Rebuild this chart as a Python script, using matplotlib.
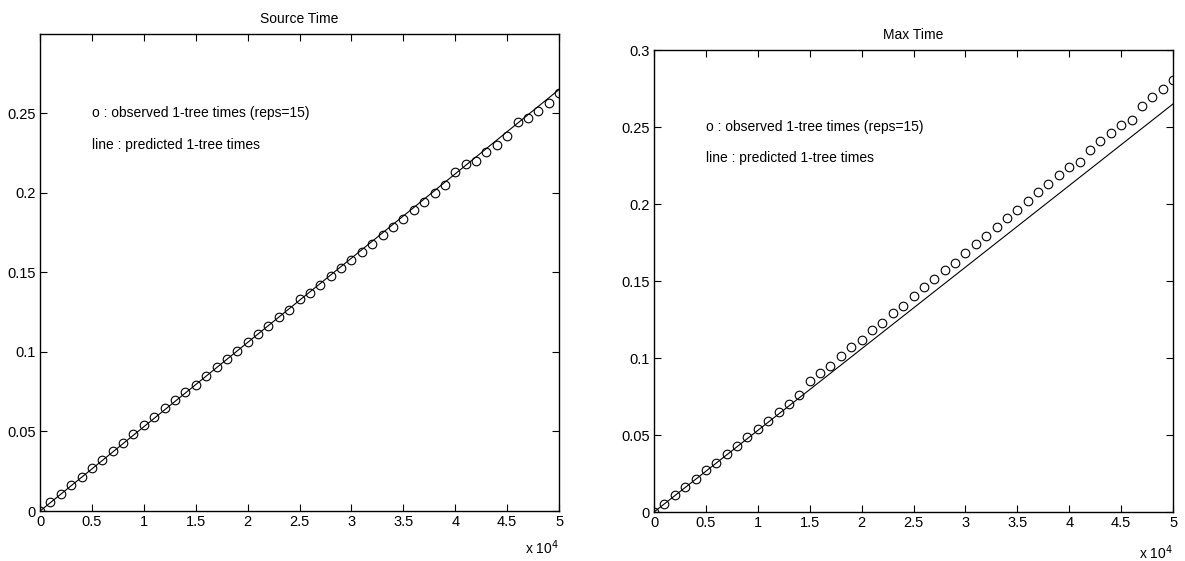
import matplotlib
matplotlib.use("Agg")
import matplotlib.pyplot as plt

plt.rcParams['font.family'] = ['Liberation Sans', 'DejaVu Sans']
plt.rcParams['font.size'] = 10

# problem sizes (x 10^4 on the axis)
sizes = list(range(0, 50001, 1000))

# predicted 1-tree times (same model line in both panels)
predicted = [0.0000, 0.0053, 0.0106, 0.0159, 0.0212, 0.0265, 0.0318, 0.0371, 0.0424, 0.0477,
             0.0530, 0.0583, 0.0636, 0.0689, 0.0742, 0.0795, 0.0848, 0.0901, 0.0954, 0.1007,
             0.1060, 0.1113, 0.1166, 0.1219, 0.1272, 0.1325, 0.1378, 0.1431, 0.1484, 0.1537,
             0.1590, 0.1643, 0.1696, 0.1749, 0.1802, 0.1855, 0.1908, 0.1961, 0.2014, 0.2067,
             0.2120, 0.2173, 0.2226, 0.2279, 0.2332, 0.2385, 0.2438, 0.2491, 0.2544, 0.2597,
             0.2650]

# observed source times
source_obs = [0.0000, 0.0055, 0.0110, 0.0165, 0.0215, 0.0270, 0.0320, 0.0375, 0.0430, 0.0485,
              0.0540, 0.0590, 0.0645, 0.0695, 0.0750, 0.0795, 0.0850, 0.0905, 0.0955, 0.1005,
              0.1060, 0.1110, 0.1165, 0.1220, 0.1265, 0.1330, 0.1370, 0.1420, 0.1475, 0.1525,
              0.1575, 0.1630, 0.1680, 0.1735, 0.1785, 0.1835, 0.1890, 0.1945, 0.1999, 0.2049,
              0.2131, 0.2182, 0.2201, 0.2257, 0.2301, 0.2358, 0.2446, 0.2472, 0.2516, 0.2566,
              0.2628]

# observed max times
max_obs = [0.0000, 0.0055, 0.0110, 0.0160, 0.0215, 0.0270, 0.0320, 0.0375, 0.0430, 0.0490,
           0.0540, 0.0590, 0.0650, 0.0700, 0.0760, 0.0850, 0.0900, 0.0950, 0.1010, 0.1070,
           0.1120, 0.1180, 0.1230, 0.1290, 0.1340, 0.1400, 0.1460, 0.1510, 0.1570, 0.1620,
           0.1680, 0.1740, 0.1790, 0.1850, 0.1910, 0.1960, 0.2020, 0.2080, 0.2130, 0.2190,
           0.2240, 0.2270, 0.2350, 0.2410, 0.2460, 0.2510, 0.2545, 0.2636, 0.2695, 0.2747,
           0.2805]

titles = ["Source Time", "Max Time"]
observed = [source_obs, max_obs]
note1 = "o : observed 1-tree times (reps=15)"
note2 = "line : predicted 1-tree times"

fig = plt.figure(figsize=(11.85, 5.61), dpi=100)
ax_pos = [[0.0338, 0.0891, 0.438, 0.8503], [0.5519, 0.0873, 0.438, 0.8235]]
y_tops = [0.2999, 0.3]
y_ticks = [[0, 0.05, 0.1, 0.15, 0.2, 0.25], [0, 0.05, 0.1, 0.15, 0.2, 0.25, 0.3]]
exp_y = [-0.0776, -0.0887]

for i in range(2):
    ax = fig.add_axes(ax_pos[i])
    ax.plot(sizes, predicted, color='black', lw=0.8)
    ax.plot(sizes, observed[i], 'o', mfc='none', mec='black', ms=6.2, mew=0.8)
    ax.set_xlim(0, 50000)
    ax.set_ylim(0, y_tops[i])
    ax.set_xticks(range(0, 50001, 5000))
    ax.set_xticklabels(['%g' % (v / 1e4) for v in range(0, 50001, 5000)])
    ax.set_yticks(y_ticks[i])
    ax.set_yticklabels(['%g' % v for v in y_ticks[i]])
    ax.tick_params(direction='in', length=5, width=0.8, top=True, right=True,
                   labelsize=10.5, pad=3)
    for sp in ax.spines.values():
        sp.set_linewidth(1.0)
    ax.set_title(titles[i], fontsize=10, pad=8)
    ax.text(5000, 0.25, note1, va='center', ha='left', fontsize=10)
    ax.text(5000, 0.23, note2, va='center', ha='left', fontsize=10)
    ax.text(1.0, exp_y[i], r'x 10$^{4}$', transform=ax.transAxes, ha='right',
            va='center', fontsize=10)

fig.savefig('out.png', dpi=100)
